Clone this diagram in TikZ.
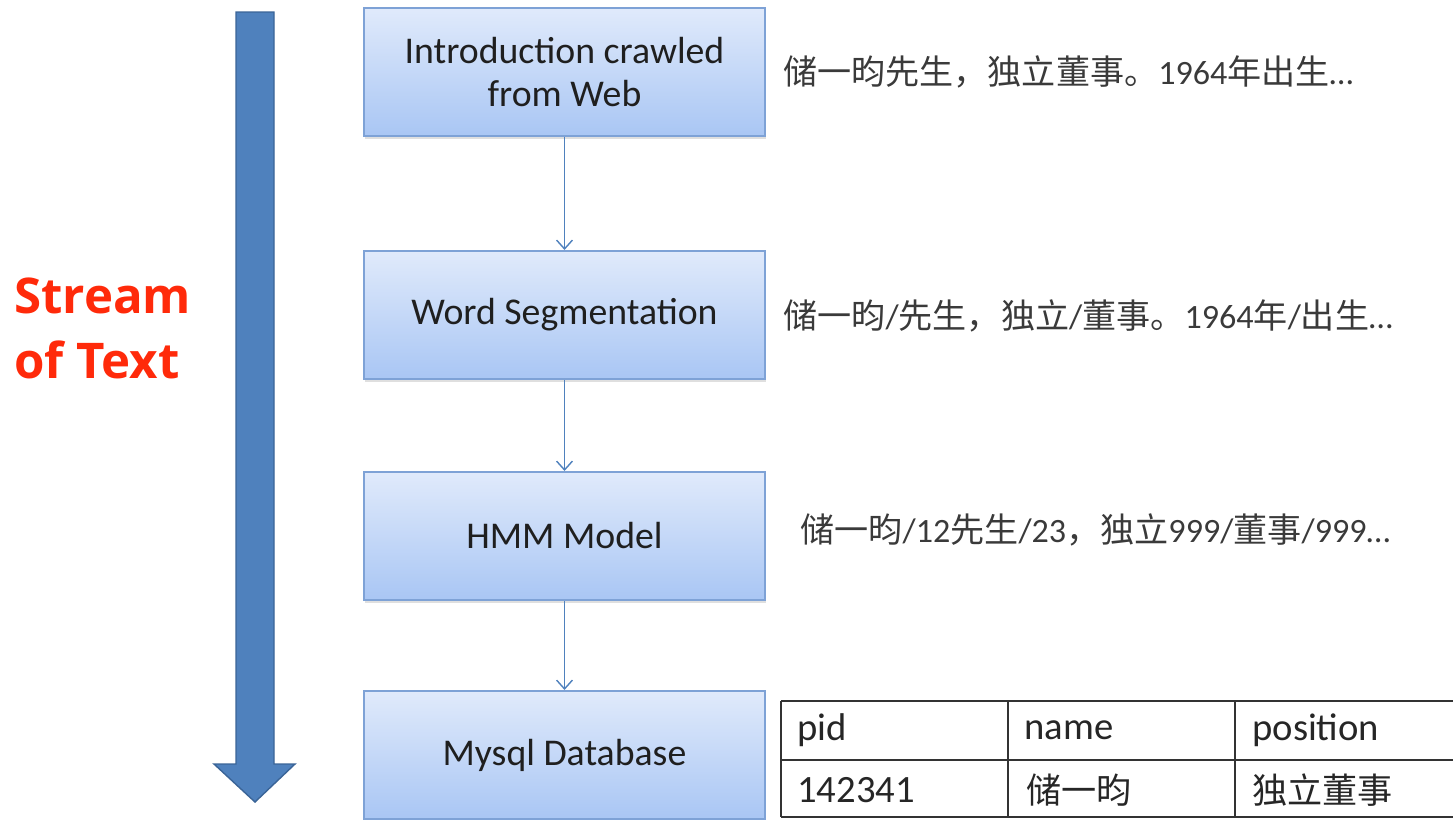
\documentclass[tikz,border=0pt]{standalone}
\usepackage{fontspec}
\setmainfont{Carlito}
\newfontfamily\cjk{Noto Sans CJK SC}
\newfontfamily\streamfont{Open Sans}[BoldFont={* Bold}]
\usetikzlibrary{arrows.meta,shadows}
\definecolor{boxtop}{HTML}{E0EAFB}
\definecolor{boxbot}{HTML}{A9C6F4}
\definecolor{boxline}{HTML}{7EA2D6}
\definecolor{flowblue}{HTML}{4F81BD}
\definecolor{flowdark}{HTML}{3A6497}
\definecolor{streamred}{HTML}{FF2A0A}
\definecolor{cjkgrey}{HTML}{3A3A3A}
\tikzset{
  stepbox/.style={draw=boxline, line width=1.2pt, top color=boxtop, bottom color=boxbot,
    minimum width=8.02cm, minimum height=2.56cm, align=center,
    font=\fontsize{21.5}{25}\selectfont, text=black!88,
    drop shadow={shadow xshift=0.5pt, shadow yshift=-1.5pt, opacity=0.25}},
  flow/.style={draw=flowblue, line width=0.8pt, -{Straight Barb[length=5pt,width=9pt]}},
  sample/.style={anchor=west, inner sep=0pt, text=cjkgrey, font=\fontsize{19.4}{22}\selectfont},
  tline/.style={draw=black!80, line width=1.3pt},
  tcell/.style={anchor=west, inner sep=0pt, text=black!85, font=\fontsize{22}{26}\selectfont},
  streamtext/.style={anchor=base west, inner sep=0pt, text=streamred, font=\streamfont\bfseries\fontsize{28}{34}\selectfont}
}
\newcommand{\zh}[1]{{\cjk #1}}
\begin{document}
\begin{tikzpicture}[x=0.02cm, y=-0.02cm]
\useasboundingbox (0,0) rectangle (1453,819);
% big arrow
\draw[fill=flowblue, draw=flowdark, line width=0.8pt]
  (236,12) -- (274,12) -- (274,764) -- (295,764) -- (255,802) -- (214,764) -- (236,764) -- cycle;
\node[streamtext] (s1) at (14,313) {Stream};
\node[streamtext] (s2) at (14,378) {of Text};
% boxes
\node[stepbox] (b1) at (564.5,72) {Introduction crawled\\from Web};
\node[stepbox] (b2) at (564.5,315) {Word Segmentation};
\node[stepbox] (b3) at (564.5,536) {HMM Model};
\node[stepbox] (b4) at (564.5,755) {Mysql Database};
\draw[flow] (b1) -- (b2);
\draw[flow] (b2) -- (b3);
\draw[flow] (b3) -- (b4);
% samples
\node[sample] (t1) at (783,72) {\zh{储一昀先生，独立董事。}1964\zh{年出生}…};
\node[sample] (t2) at (783,316) {\zh{储一昀}/\zh{先生，独立}/\zh{董事。}1964\zh{年}/\zh{出生}…};
\node[sample] (t3) at (800,530) {\zh{储一昀}/12\zh{先生}/23\zh{，独立}999/\zh{董事}/999…};
% table
\coordinate (ta) at (781,701);
\coordinate (tb) at (1460,701);
\coordinate (tc) at (781,760);
\coordinate (td) at (1460,760);
\coordinate (te) at (781,817);
\coordinate (tf) at (1460,817);
\draw[tline] (ta) -- (tb);
\draw[tline] (tc) -- (td);
\draw[tline] (te) -- (tf);
\coordinate (c1a) at (781,701); \coordinate (c1b) at (781,817);
\coordinate (c2a) at (1008,701); \coordinate (c2b) at (1008,817);
\coordinate (c3a) at (1235,701); \coordinate (c3b) at (1235,817);
\draw[tline] (c1a) -- (c1b);
\draw[tline] (c2a) -- (c2b);
\draw[tline] (c3a) -- (c3b);
\node[tcell] (h1) at (797,730) {pid};
\node[tcell] (h2) at (1024,730) {name};
\node[tcell] (h3) at (1252,730) {position};
\node[tcell] (r1) at (797,790) {142341};
\node[tcell, font=\cjk\fontsize{20}{24}\selectfont] (r2) at (1026,790) {储一昀};
\node[tcell, font=\cjk\fontsize{20}{24}\selectfont] (r3) at (1252,790) {独立董事};
\end{tikzpicture}
\end{document}
